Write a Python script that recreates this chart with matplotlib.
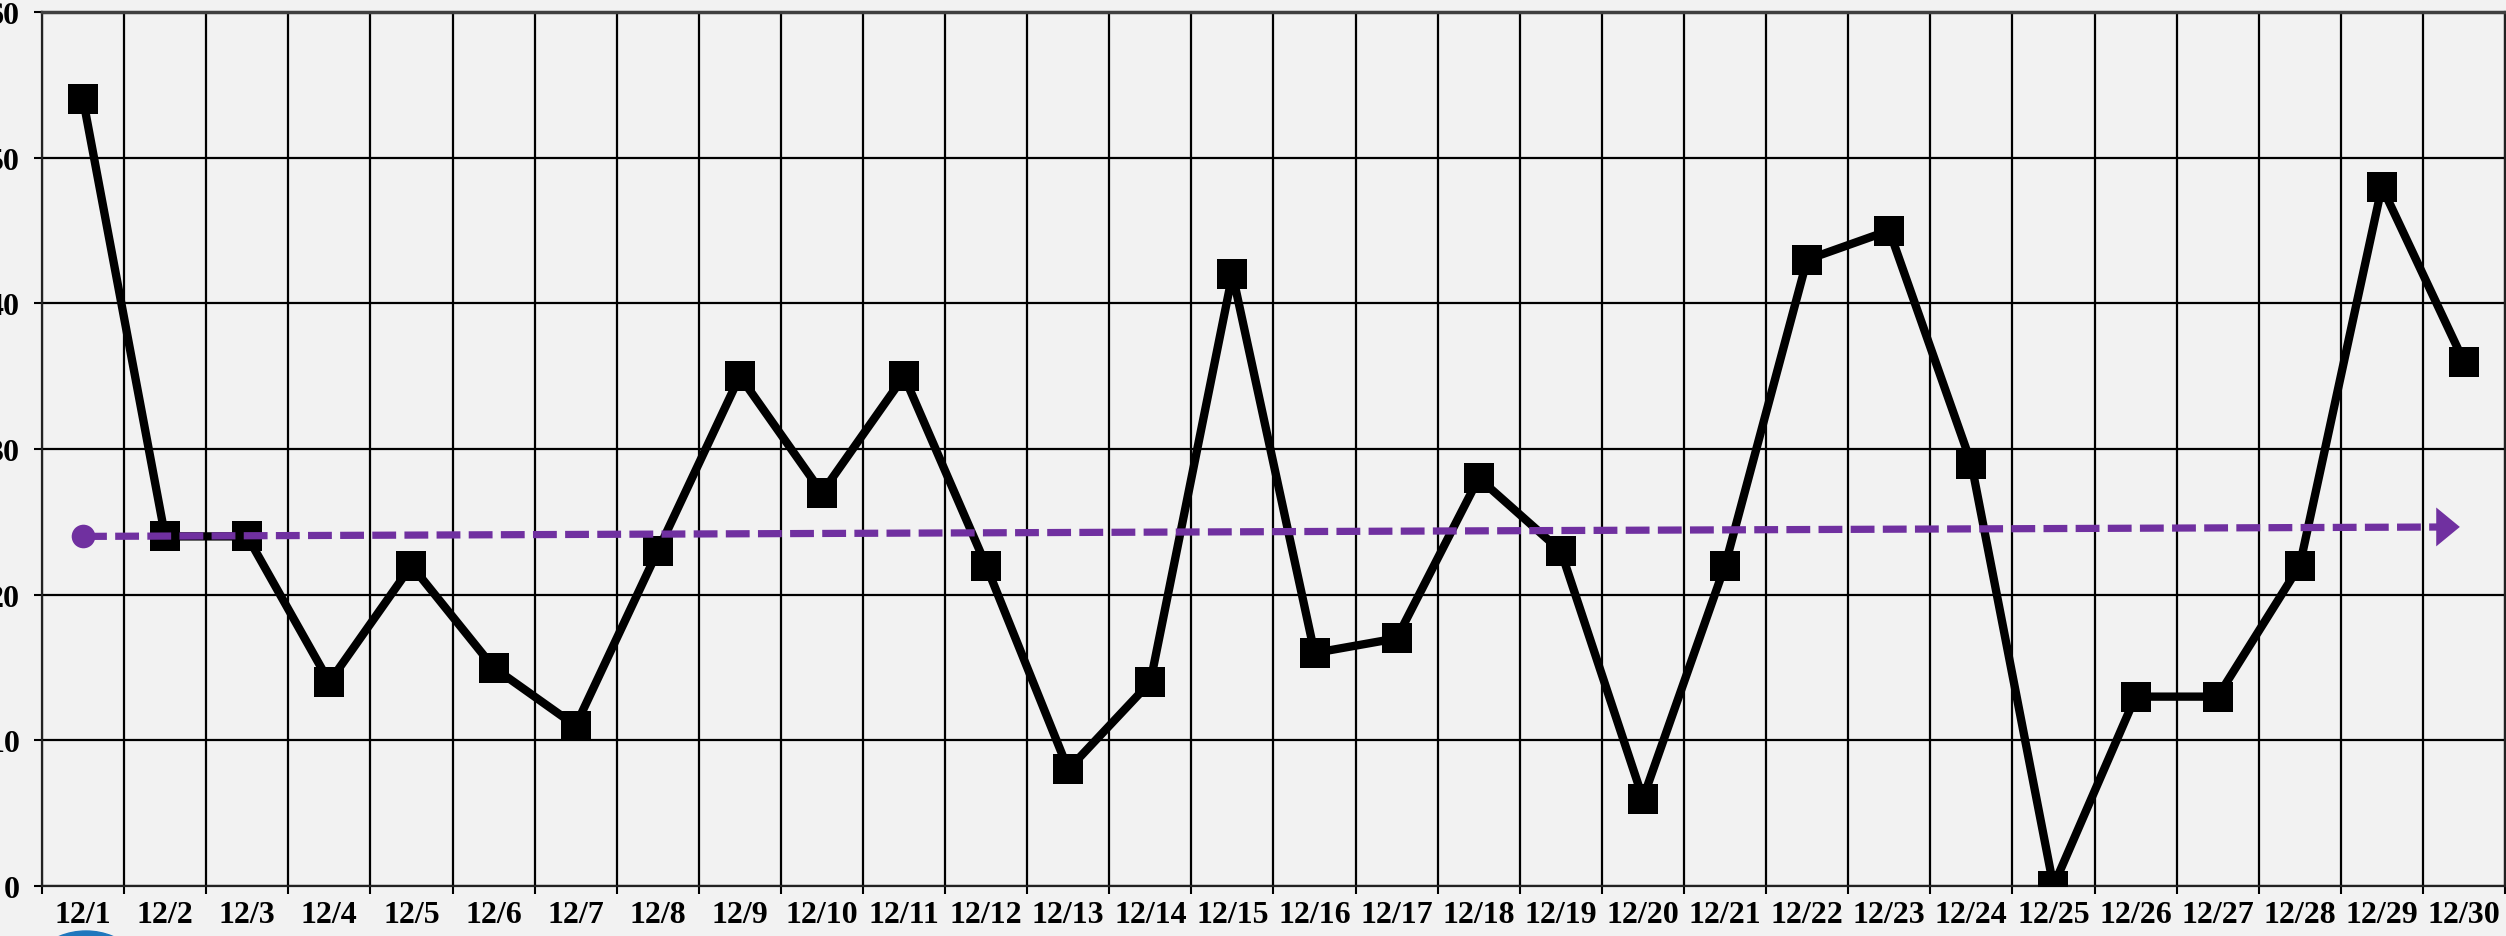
import matplotlib
matplotlib.use("Agg")
import matplotlib.pyplot as plt
from matplotlib.patches import Ellipse
import numpy as np

# ---- data ----
categories = ["12/%d" % d for d in range(1, 31)]
values = [54, 24, 24, 14, 22, 15, 11, 23, 35, 27, 35, 22, 8, 14, 42,
          16, 17, 28, 23, 6, 22, 43, 45, 29, 0, 13, 13, 22, 48, 36]
y_ticks = [0, 10, 20, 30, 40, 50, 60]
trend_x = [0.0, 28.95]
trend_y = [24.0, 24.65]

BG = "#f2f2f2"
PURPLE = "#7030a0"
FONT = dict(family="Liberation Serif", weight="bold", size=23)

W, H = 2506, 937
fig = plt.figure(figsize=(W / 100, H / 100), dpi=100, facecolor=BG)
ax = fig.add_axes([42 / W, 50 / H, (2505 - 42) / W, (887 - 13) / H])
ax.set_facecolor(BG)

x = np.arange(len(categories))
ax.set_xlim(-0.5, len(categories) - 0.5)
ax.set_ylim(0, 60)

# grid
ax.set_yticks(y_ticks)
ax.set_xticks(np.arange(-0.5, len(categories), 1.0))
ax.set_xticklabels([])
ax.set_xticks(x, minor=True)
ax.set_xticklabels(categories, minor=True, fontdict=FONT)
ax.set_yticklabels([str(v) for v in y_ticks], fontdict=FONT)
ax.tick_params(axis="x", which="major", length=5.8, width=1.5, direction="out")
ax.tick_params(axis="x", which="minor", length=0, pad=10)
ax.tick_params(axis="y", length=5.8, width=1.5, direction="out", pad=10)
ax.grid(True, which="major", color="black", linewidth=1.6)
ax.set_axisbelow(True)
for s in ax.spines.values():
    s.set_color("#222222")
    s.set_linewidth(1.6)
ax.spines["top"].set_linewidth(2.5)
ax.spines["top"].set_color("#404040")

# main series
ax.plot(x, values, color="black", linewidth=6.0, marker="s",
        markersize=22, markeredgewidth=0, markerfacecolor="black",
        zorder=3, solid_joinstyle="round")

# trend arrow
tip_x, tip_y = trend_x[1], trend_y[1]
ax.plot(trend_x, trend_y, color=PURPLE, linewidth=5.2,
        linestyle=(0, (3.3, 1.15)), zorder=4, dash_capstyle="butt")
ax.plot([trend_x[0]], [trend_y[0]], marker="o", markersize=17,
        color=PURPLE, markeredgewidth=0, zorder=5)
ax.annotate("", xy=(tip_x, tip_y), xytext=(tip_x - 0.6, tip_y),
            arrowprops=dict(arrowstyle="-|>,head_length=17,head_width=14",
                            mutation_scale=1, color=PURPLE, lw=0,
                            shrinkA=0, shrinkB=0),
            zorder=6)

# partially visible logo at bottom-left
fig.patches.append(Ellipse((86 / W, -65 / H), 140 / W, 140 / H,
                           transform=fig.transFigure, color="#1f77bd",
                           zorder=0))

fig.savefig("out.png", dpi=100, facecolor=BG)
